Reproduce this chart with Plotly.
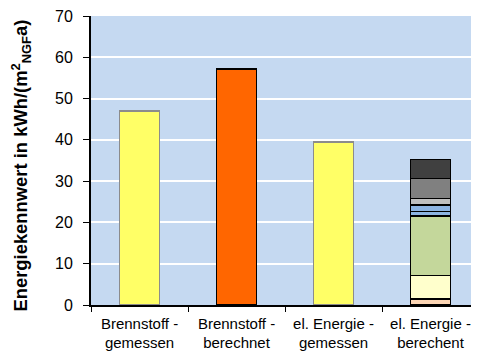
import plotly.graph_objects as go

categories = ["Brennstoff -<br>gemessen", "Brennstoff -<br>berechnet",
              "el. Energie -<br>gemessen", "el. Energie -<br>berechent"]

# single bars
single_values = [47.0, 57.2, 39.5]
single_colors = ["#FFFF66", "#FF6600", "#FFFF66"]
single_lines = ["#8C8C8C", "#000000", "#8C8C8C"]

# stacked components of the last bar (bottom -> top)
stack_values = [1.5, 5.6, 14.4, 1.1, 1.6, 1.6, 4.9, 4.6]
stack_colors = ["#FCD5B4", "#FFFFCC", "#C4D79B", "#8DB4E2", "#8DB4E2",
                "#BFBFBF", "#808080", "#404040"]

yticks = [0, 10, 20, 30, 40, 50, 60, 70]
y_title = "<b>Energiekennwert in kWh/(m<sup>2</sup><sub>NGF</sub>a)</b>"

fig = go.Figure()
for i, v in enumerate(single_values):
    fig.add_trace(go.Bar(x=[categories[i]], y=[v], marker_color=single_colors[i],
                         marker_line=dict(color=single_lines[i], width=1.5),
                         showlegend=False, hoverinfo="skip"))
for v, c in zip(stack_values, stack_colors):
    fig.add_trace(go.Bar(x=[categories[3]], y=[v], marker_color=c,
                         marker_line=dict(color="#000000", width=1.5),
                         showlegend=False, hoverinfo="skip"))

# page body has an 8px margin; compensate so the chart sits like the reference
fig.update_layout(
    width=471, height=345,
    margin=dict(l=83, r=0, t=8, b=48, autoexpand=False),
    barmode="stack", bargap=0.59,
    plot_bgcolor="#C5D9F1", paper_bgcolor="#FFFFFF",
    font=dict(family="Liberation Sans, Arial, sans-serif", color="#000000"),
)
fig.add_annotation(
    text=y_title, textangle=-90, xref="paper", yref="paper",
    x=-0.18, y=0.483, xanchor="center", yanchor="middle",
    showarrow=False, font=dict(size=18.4),
)
fig.update_xaxes(
    categoryorder="array", categoryarray=categories,
    range=[-0.5, 3.5],
    showline=True, linecolor="#000000", linewidth=1.5,
    ticks="outside", tickson="boundaries", ticklen=5, tickcolor="#000000",
    tickfont=dict(size=15), showgrid=False, ticklabelstandoff=4,
    ticklabeloverflow="allow",
)
fig.update_yaxes(
    range=[0, 70], tickvals=yticks,
    showline=True, linecolor="#000000", linewidth=2,
    ticks="outside", ticklen=6, tickcolor="#000000",
    tickfont=dict(size=16), ticklabelstandoff=7,
    ticklabeloverflow="allow",
    showgrid=True, gridcolor="#FFFFFF", gridwidth=1.5,
    zeroline=False,
)

fig.write_html("out.html")
